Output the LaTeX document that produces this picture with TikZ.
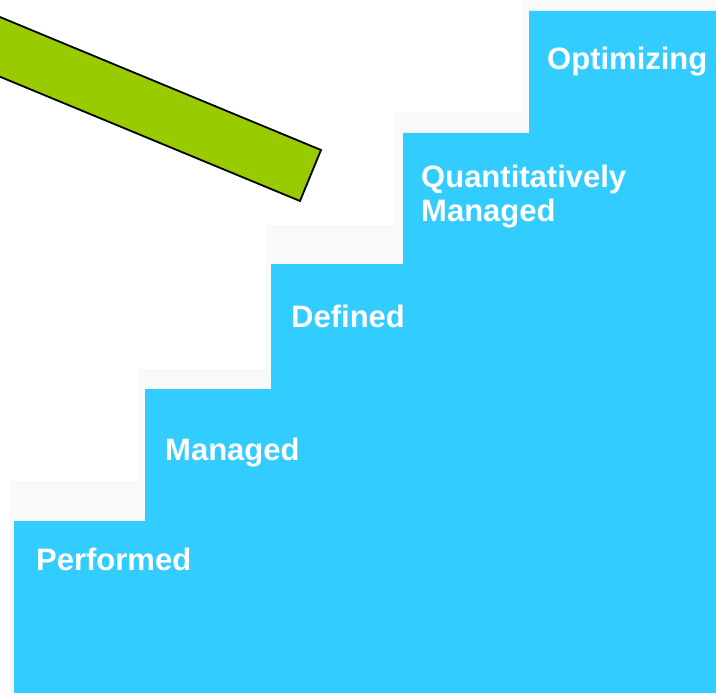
\documentclass[tikz,border=0pt]{standalone}
\usepackage{fontspec}
\setmainfont{Liberation Sans}
\definecolor{stepblue}{RGB}{51,204,255}
\definecolor{barGreen}{RGB}{153,204,0}
\definecolor{shadowgrey}{RGB}{249,249,249}
\tikzset{
  steplabel/.style={anchor=base west, inner sep=0pt, text=white, align=left,
    font=\fontsize{31}{35}\selectfont\bfseries},
}
\begin{document}
\begin{tikzpicture}[x=1pt,y=-1pt]
\useasboundingbox (0,0) rectangle (716,693);
\clip (0,0) rectangle (716,693);
% faint shadow staircase
\fill[shadowgrey] (10,693) -- (10,481) -- (138,481) -- (138,369) -- (266,369) -- (266,225)
  -- (394,225) -- (394,113) -- (522,113) -- (522,0) -- (716,0) -- (716,693) -- cycle;
% blue staircase
\fill[stepblue] (14,693) -- (14,521) -- (145,521) -- (145,389) -- (271,389) -- (271,264)
  -- (403,264) -- (403,133) -- (529,133) -- (529,11) -- (716,11) -- (716,693) -- cycle;
% green bar
\filldraw[fill=barGreen, draw=black, line width=1.8pt, line join=miter]
  (321,150) -- (300,201) -- (-10,72.6) -- (-10,12.9) -- cycle;
% labels
\node[steplabel] (performed) at (36,570) {Performed};
\node[steplabel] (managed) at (165,460) {Managed};
\node[steplabel] (defined) at (291,327) {Defined};
\node[steplabel] (quant) at (421,222) {Quantitatively\\Managed};
\node[steplabel] (optim) at (547,70) {Optimizing};
\end{tikzpicture}
\end{document}
